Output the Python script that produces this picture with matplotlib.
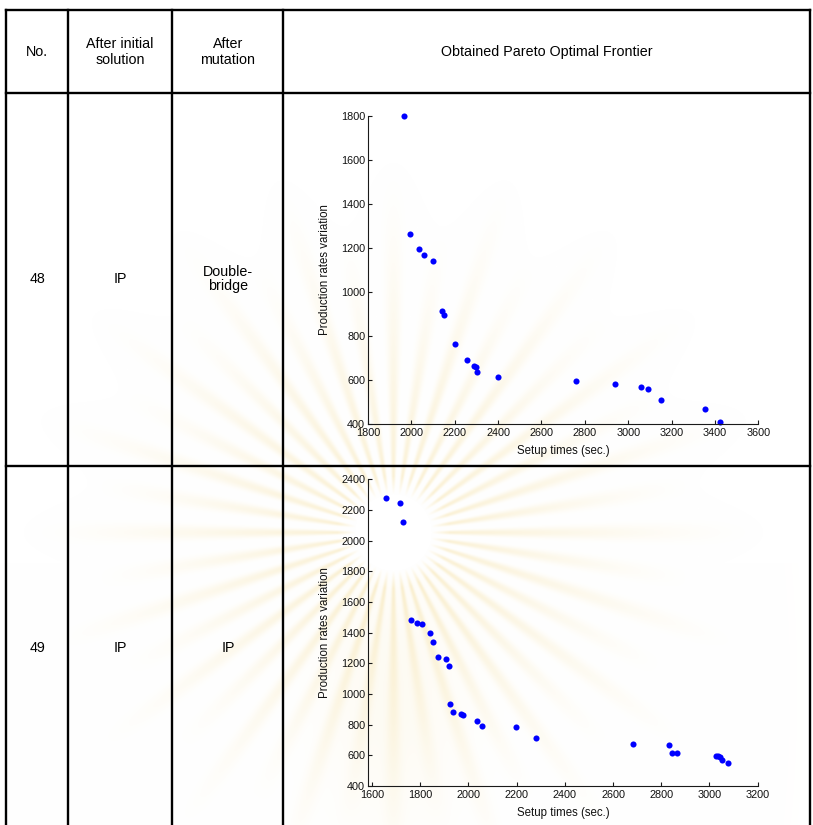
import numpy as np
import matplotlib
matplotlib.use("Agg")
import matplotlib.pyplot as plt

plt.rcParams['font.family'] = ['Liberation Sans', 'DejaVu Sans']

# ---- table content ----
header = ["No.", "After initial\nsolution", "After\nmutation", "Obtained Pareto Optimal Frontier"]
run_no = ["48", "49"]
initial_solution = ["IP", "IP"]
mutation = ["Double-\nbridge", "IP"]

# ---- run 48 Pareto frontier ----
setup_48 = [1967, 1992, 2034, 2060, 2100, 2140, 2150, 2201, 2258, 2290, 2298,
            2304, 2400, 2758, 2939, 3060, 3093, 3151, 3354, 3425]
prod_48 = [1800, 1264, 1194, 1167, 1141, 914, 896, 765, 691, 665, 660,
           635, 614, 597, 581, 568, 561, 508, 467, 408]

# ---- run 49 Pareto frontier ----
setup_49 = [1660, 1716, 1728, 1761, 1787, 1806, 1840, 1854, 1876, 1907, 1918,
            1926, 1937, 1971, 1978, 2034, 2056, 2197, 2280, 2683, 2833, 2845,
            2866, 3027, 3036, 3044, 3052, 3075]
prod_49 = [2278, 2243, 2120, 1485, 1464, 1457, 1398, 1339, 1240, 1229, 1181,
           935, 883, 870, 863, 824, 794, 787, 712, 676, 666, 618,
           618, 598, 595, 588, 570, 553]

W, H = 813, 825
fig = plt.figure(figsize=(W / 100, H / 100), dpi=100)

# background layer in pixel coordinates (watermark + table grid)
bg = fig.add_axes([0, 0, 1, 1], zorder=0)
bg.axis('off')

# soft sunburst watermark rendered as an image
cx, cy = 393, 532
yy, xx = np.mgrid[0:H, 0:W].astype(float)
dx, dy = xx - cx, yy - cy
r = np.hypot(dx, dy)
th = np.arctan2(dy, dx)
n_rays = 40
ray = (0.5 + 0.5 * np.cos(n_rays * th)) ** 2.0
length = 250 + 60 * (0.5 + 0.5 * np.cos(n_rays / 2 * th))
fade = np.clip(1 - (r - 60) / length, 0, 1) ** 1.3
onset = np.clip((r - 38) / 18, 0, 1)
body = np.exp(-((dx / 70) ** 2) - (((yy - 690) / 130) ** 2)) * (yy > cy + 30)
inten = 0.32 * ray * fade * onset + 0.10 * body * onset
tint = np.array([0.95, 0.84, 0.52])
img = 1 - inten[..., None] * (1 - tint)
bg.imshow(img, extent=(0, W, H, 0), interpolation='bilinear', zorder=0)
bg.set_xlim(0, W)
bg.set_ylim(H, 0)

# table grid
lw = 1.7
col_x = [6, 68, 172, 283, 810]
for x in col_x:
    bg.plot([x, x], [10, H + 5], color='black', lw=lw, solid_capstyle='projecting')
for y in (10, 93, 466):
    bg.plot([6, 810], [y, y], color='black', lw=lw, solid_capstyle='projecting')

# header text
hdr_x = [37, 120, 228, 547]
for x, t in zip(hdr_x, header):
    bg.text(x, 52, t, ha='center', va='center', fontsize=10.3, linespacing=1.25)

# row text
row_y = [279, 648]
for y, a, b, c in zip(row_y, run_no, initial_solution, mutation):
    bg.text(37, y, a, ha='center', va='center', fontsize=10.3)
    bg.text(120, y, b, ha='center', va='center', fontsize=10.3)
    bg.text(228, y, c, ha='center', va='center', fontsize=10.3, linespacing=1.0)


def frontier_axes(rect_px, xs, ys, xlim, ylim, xticks, yticks):
    x0, y0, x1, y1 = rect_px
    ax = fig.add_axes([x0 / W, 1 - y1 / H, (x1 - x0) / W, (y1 - y0) / H], zorder=2)
    ax.patch.set_alpha(0)
    ax.plot(xs, ys, 'o', color=(0, 0, 1), ms=4.4, mec='none', clip_on=False)
    ax.set_xlim(*xlim)
    ax.set_ylim(*ylim)
    ax.set_xticks(xticks)
    ax.set_yticks(yticks)
    for s in ('top', 'right'):
        ax.spines[s].set_visible(False)
    for s in ('left', 'bottom'):
        ax.spines[s].set_color('#1a1a1a')
        ax.spines[s].set_linewidth(0.8)
    ax.tick_params(direction='in', length=3, width=0.8, color='#1a1a1a',
                   labelsize=7.8, labelcolor='#111111')
    ax.tick_params(axis='y', pad=2.0)
    ax.tick_params(axis='x', pad=3.0)
    ax.set_xlabel("Setup times (sec.)", fontsize=8.3, color='#111111')
    ax.set_ylabel("Production rates variation", fontsize=8.3, color='#111111')
    hpx = y1 - y0
    wpx = x1 - x0
    ax.xaxis.set_label_coords(0.5, -21 / hpx)
    ax.yaxis.set_label_coords((331 - x0) / wpx, 0.5)
    return ax


frontier_axes((368, 116, 758.3, 424), setup_48, prod_48, (1800, 3600), (400, 1800),
              np.arange(1800, 3601, 200), np.arange(400, 1801, 200))
frontier_axes((368, 479.3, 757.7, 786), setup_49, prod_49, (1584, 3200), (400, 2400),
              np.arange(1600, 3201, 200), np.arange(400, 2401, 200))

fig.savefig("out.png", dpi=100)
